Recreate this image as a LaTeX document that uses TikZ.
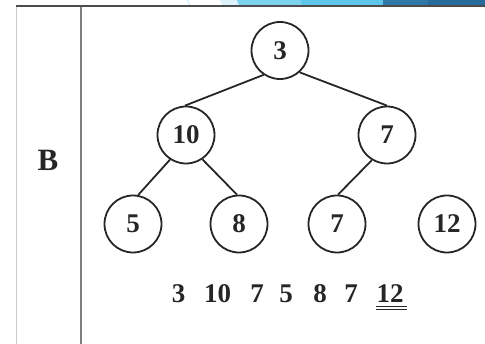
\documentclass[tikz,border=0pt]{standalone}
\usepackage{fontspec}
\setmainfont{Liberation Serif}
\definecolor{paleblue}{HTML}{DDF2FB}
\definecolor{skyblue}{HTML}{7DD2EE}
\definecolor{brightblue}{HTML}{5CC7EB}
\definecolor{darkblue}{HTML}{2F78A8}
\definecolor{deepblue}{HTML}{276A9C}
\begin{document}
\begin{tikzpicture}[x=1pt,y=-1pt,
  heapnode/.style={circle,draw=black!85,line width=1.8pt,minimum size=57pt,inner sep=0pt,font=\fontsize{27}{30}\selectfont\bfseries,text=black!85},
  edge/.style={draw=black!85,line width=1.8pt},
  rowtext/.style={anchor=base,inner sep=0pt,font=\fontsize{27}{30}\selectfont\bfseries,text=black!85},
  rule/.style={line width=2pt}]
\useasboundingbox (0,0) rectangle (485,344);
% decorative strip at top
\fill[paleblue] (187,0) -- (189,0) -- (190.5,5.5) -- (188.5,5.5) -- cycle;
\fill[paleblue] (220,0) -- (237,0) -- (239,5.5) -- (222,5.5) -- cycle;
\fill[skyblue] (237,0) -- (300,0) -- (302,5.5) -- (239,5.5) -- cycle;
\fill[brightblue] (300,0) -- (383,0) -- (383,5.5) -- (302,5.5) -- cycle;
\fill[darkblue] (383,0) rectangle (428,5.5);
\fill[deepblue] (428,0) rectangle (485,5.5);
% table lines
\draw[rule,draw=black!70] (16,6.5) -- (485,6.5);
\draw[line width=1.5pt,draw=black!20] (16.5,7) -- (16.5,344);
\draw[line width=2.5pt,draw=black!50] (81,7) -- (81,344);
% label
\node[inner sep=0pt,font=\fontsize{31}{34}\selectfont\bfseries,text=black!85] (lab) at (48,160) {B};
% heap nodes
\node[heapnode] (n3) at (280,50.5) {3};
\node[heapnode] (n10) at (186,135) {10};
\node[heapnode] (n7a) at (387,135) {7};
\node[heapnode] (n5) at (133,224) {5};
\node[heapnode] (n8) at (239,224) {8};
\node[heapnode] (n7b) at (337,224) {7};
\node[heapnode] (n12) at (447,224) {12};
\draw[edge] (n3.-124) -- (n10.92);
\draw[edge] (n3.-48) -- (n7a.90);
\draw[edge] (n10.-123) -- (n5.80);
\draw[edge] (n10.-56) -- (n8.94);
\draw[edge] (n7a.-121) -- (n7b.88);
% array row
\node[rowtext] (r1) at (178.5,303) {3};
\node[rowtext] (r2) at (217.5,303) {10};
\node[rowtext] (r3) at (257,303) {7};
\node[rowtext] (r4) at (286,303) {5};
\node[rowtext] (r5) at (320,303) {8};
\node[rowtext] (r6) at (351,303) {7};
\node[rowtext] (r7) at (390,303) {12};
\draw[line width=1.1pt,draw=black!85] (r7.south west) ++(0,3) -- ++(31,0);
\draw[line width=1.1pt,draw=black!85] (r7.south west) ++(0,6) -- ++(31,0);
\end{tikzpicture}
\end{document}
